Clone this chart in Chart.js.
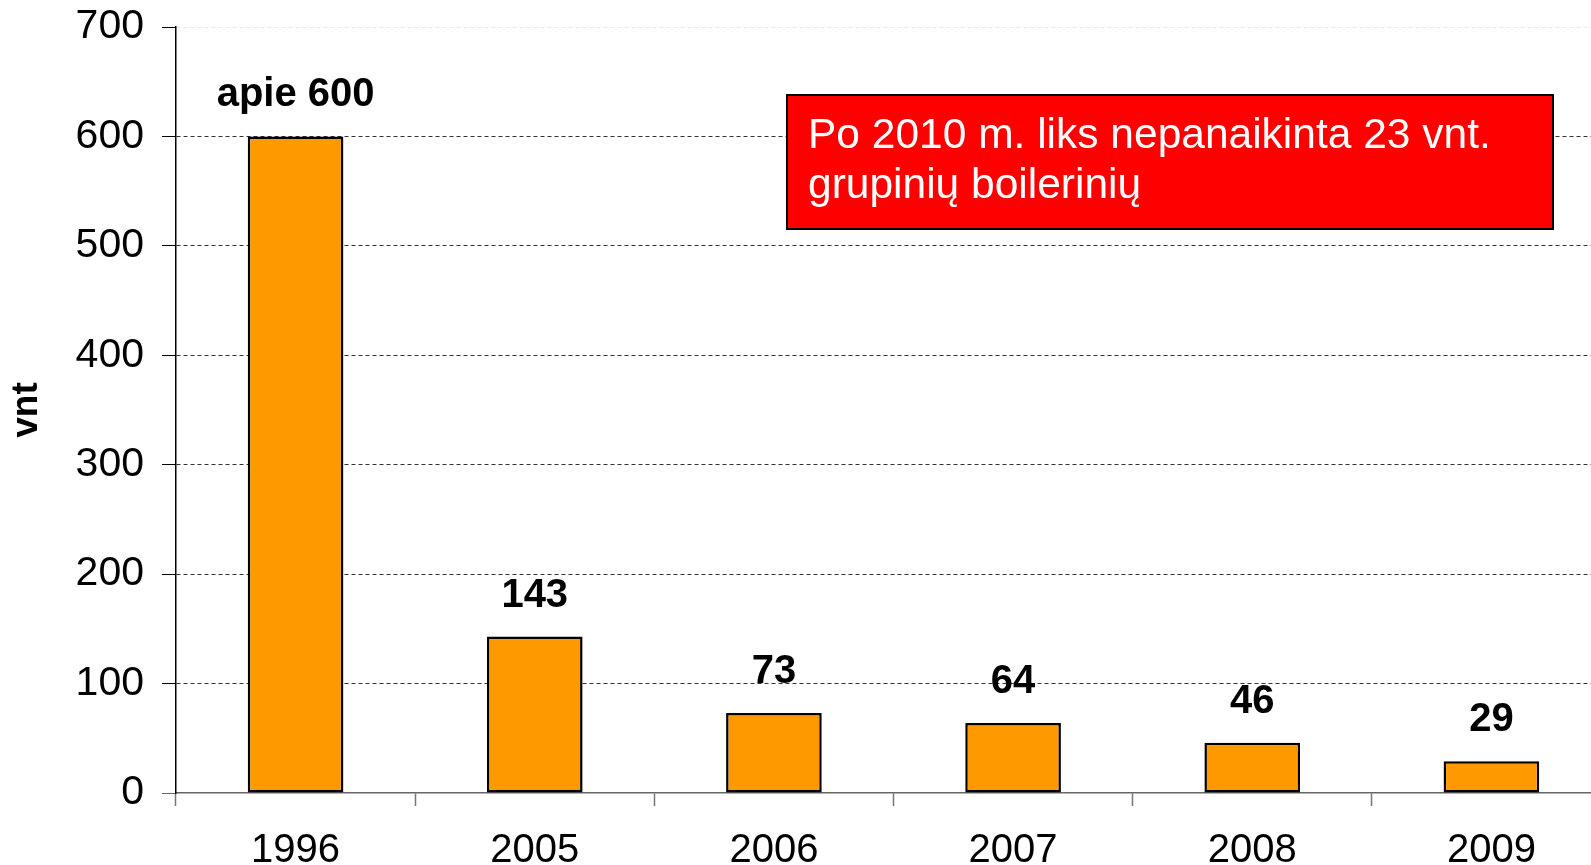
<!DOCTYPE html>
<html>
<head>
<meta charset="utf-8">
<script src="https://cdn.jsdelivr.net/npm/chart.js@4"></script>
<style>
  body { margin: 0; background: #fff; }
  #wrap { width: 1591px; height: 865px; overflow: hidden; position: relative; }
</style>
</head>
<body>
<div id="wrap"><canvas id="boilerChart" width="1615" height="865"></canvas></div>
<script>
// data
const years = ['1996', '2005', '2006', '2007', '2008', '2009'];
const counts = [600, 143, 73, 64, 46, 29];
const countLabels = ['apie 600', '143', '73', '64', '46', '29'];
const yMin = 0;
const yMax = 700;
const yStep = 100;
const axisTitle = 'vnt';
const noteLines = ['Po 2010 m. liks nepanaikinta 23 vnt.', 'grupinių boilerinių'];

const fontFamily = '"Liberation Sans", Arial, sans-serif';

// value labels above each bar
const barLabels = {
  id: 'barLabels',
  afterDatasetsDraw(chart) {
    const ctx = chart.ctx;
    const meta = chart.getDatasetMeta(0);
    ctx.save();
    ctx.font = 'bold 40px ' + fontFamily;
    ctx.fillStyle = '#000';
    ctx.textAlign = 'center';
    ctx.textBaseline = 'middle';
    meta.data.forEach((bar, i) => ctx.fillText(countLabels[i], bar.x, bar.y - 41));
    ctx.restore();
  }
};

// the red note box
const noteBox = {
  id: 'noteBox',
  afterDraw(chart) {
    const ctx = chart.ctx;
    ctx.save();
    ctx.fillStyle = '#ff0000';
    ctx.fillRect(787, 95, 766, 134);
    ctx.lineWidth = 2;
    ctx.strokeStyle = '#000';
    ctx.strokeRect(787, 95, 766, 134);
    ctx.fillStyle = '#fff';
    ctx.font = '42.5px ' + fontFamily;
    ctx.textBaseline = 'alphabetic';
    noteLines.forEach((line, i) => ctx.fillText(line, 808, 148 + i * 50));
    ctx.restore();
  }
};

new Chart(document.getElementById('boilerChart'), {
  type: 'bar',
  data: {
    labels: years,
    datasets: [{
      data: counts,
      backgroundColor: '#ff9900',
      borderColor: '#000',
      borderWidth: 2.5,
      borderSkipped: false,
      barPercentage: 0.4,
      categoryPercentage: 1
    }]
  },
  options: {
    responsive: false,
    animation: false,
    layout: { padding: { top: 27, right: 4, left: 0, bottom: 0 } },
    plugins: {
      legend: { display: false },
      tooltip: { enabled: false }
    },
    scales: {
      x: {
        offset: true,
        grid: {
          offset: true,
          drawOnChartArea: false,
          drawTicks: true,
          tickLength: 13,
          tickColor: '#777',
          tickWidth: 1.5
        },
        border: { color: '#666', width: 1.5 },
        ticks: { color: '#000', font: { size: 40, family: fontFamily }, padding: 21, maxRotation: 0 },
        afterFit(scale) { scale.height = 72; }
      },
      y: {
        min: yMin,
        max: yMax,
        ticks: { stepSize: yStep, color: '#000', font: { size: 41, family: fontFamily }, padding: 18 },
        grid: {
          color: (c) => c.tick.value === yMax ? '#e8e8e8' : (c.tick.value === yMin ? 'rgba(0,0,0,0)' : '#333'),
          tickColor: (c) => c.tick.value === yMin ? '#666' : '#000',
          tickLength: 14,
          tickBorderDash: [],
          lineWidth: 1
        },
        border: { color: '#000', width: 1.5, dash: [4, 3] },
        title: {
          display: true,
          text: axisTitle,
          color: '#000',
          font: { size: 37, weight: 'bold', family: fontFamily },
          padding: { top: 5, bottom: 0 }
        },
        afterFit(scale) {
          scale.width = 176;
          scale.paddingTop = 0;
          scale.paddingBottom = 0;
        }
      }
    }
  },
  plugins: [barLabels, noteBox]
});
</script>
</body>
</html>
